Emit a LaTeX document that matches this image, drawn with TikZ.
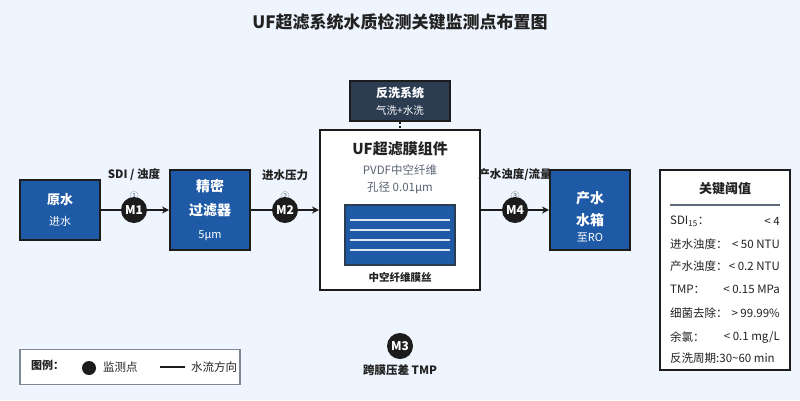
\documentclass[tikz,border=0pt]{standalone}
\usepackage{fontspec}
\setmainfont{Noto Sans CJK SC}
\usetikzlibrary{arrows.meta,positioning,calc}
\definecolor{bgblue}{HTML}{EEF5FE}
\definecolor{unitblue}{HTML}{1F5AA6}
\definecolor{linedark}{HTML}{1C1C1C}
\definecolor{slatedark}{HTML}{2C3D52}
\definecolor{textdark}{HTML}{222222}
\definecolor{subgray}{HTML}{5A6474}
\definecolor{rulegray}{HTML}{5F6B78}
\tikzstyle{unit} = [
    rectangle,
    draw=linedark,
    line width=2pt,
    fill=unitblue,
    text=white,
    minimum width=80pt,
    minimum height=60pt,
    align=center,
    inner sep=0pt
]
\tikzstyle{monitor} = [
    circle,
    fill=linedark,
    text=white,
    minimum size=26pt,
    inner sep=0pt,
    font=\bfseries\fontsize{12}{14}\selectfont
]
\tikzstyle{tag} = [
    text=textdark,
    font=\bfseries\fontsize{11.5}{14}\selectfont
]
\tikzstyle{flow} = [
    line width=2.5pt,
    draw=linedark
]
\tikzstyle{flowarrow} = [
    flow,
    -{Stealth[length=7pt,width=7pt]}
]
\tikzstyle{row} = [
    text=textdark,
    inner sep=0pt,
    font=\fontsize{11.5}{14}\selectfont
]

\begin{document}
\begin{tikzpicture}[x=1pt, y=-1pt]
        % background and frame
        \fill[bgblue] (0,0) rectangle (800,400);
        \useasboundingbox (0,0) rectangle (800,400);

        % title
        \node[text=textdark, font=\bfseries\fontsize{17}{20}\selectfont] (title) at (400,22) {UF超滤系统水质检测关键监测点布置图};

        % raw water (left)
        \node[unit, font=\fontsize{13}{21}\selectfont] (raw) at (60,210) {
            \textbf{原水}\\
            {\fontsize{11}{13}\selectfont 进水}
        };

        % cartridge filter
        \node[unit, minimum height=80pt, font=\bfseries\fontsize{14}{23.5}\selectfont] (filter) at (210,210) {
            \rule{0pt}{13pt}精密\\
            过滤器\\
            {\mdseries\fontsize{11}{13}\selectfont 5μm}
        };

        % UF module (middle)
        \node[rectangle, draw=linedark, line width=2pt, fill=white, minimum width=160pt, minimum height=160pt] (uf) at (400,210) {};
        \node[text=textdark, font=\bfseries\fontsize{15}{18}\selectfont] (uftitle) at (400,149) {UF超滤膜组件};
        \node[text=subgray, align=center, font=\fontsize{11.5}{17}\selectfont] (ufsub) at (400,179) {PVDF中空纤维\\孔径 0.01μm};
        \node[rectangle, draw=slatedark, line width=1.5pt, fill=unitblue, minimum width=110pt, minimum height=60pt] (fiber) at (400,235) {};
        \foreach \y in {220,230,240,250}
            \draw[white!85!unitblue, line width=1.3pt] (350,\y) -- (450,\y);
        \node[text=textdark, font=\bfseries\fontsize{10.5}{13}\selectfont] (fiberlabel) at (400,277) {中空纤维膜丝};

        % backwash system (top)
        \node[rectangle, draw=linedark, line width=2pt, fill=slatedark, text=white, minimum width=100pt, minimum height=40pt, align=center, inner sep=0pt, font=\fontsize{12}{16.5}\selectfont] (backwash) at (400,101) {
            \textbf{反洗系统}\\
            {\fontsize{10.5}{12}\selectfont 气洗+水洗}
        };
        \draw[linedark, line width=2pt, dotted] (backwash) -- (uf);

        % product water tank (right)
        \node[unit, minimum height=80pt, font=\bfseries\fontsize{14}{21.5}\selectfont] (tank) at (590,210) {
            \rule{0pt}{26pt}产水\\
            水箱\\[-5pt]
            {\mdseries\fontsize{11}{13}\selectfont 至RO}
        };

        % monitoring points
        \node[text=subgray, font=\fontsize{9}{10}\selectfont] (n1) at (134,196) {①};
        \node[text=subgray, font=\fontsize{9}{10}\selectfont] (n2) at (285,196) {②};
        \node[text=subgray, font=\fontsize{9}{10}\selectfont] (n3) at (515,196) {③};
        \node[tag] (t1) at (134,175) {SDI / 浊度};
        \node[tag] (t2) at (285,175) {进水压力};
        \node[tag] (t4) at (515,175) {产水浊度/流量};
        \node[monitor] (m1) at (134,210) {M1};
        \node[monitor] (m2) at (285,210) {M2};
        \node[monitor] (m4) at (515,210) {M4};

        % water flow
        \draw[flow] (raw) -- (m1);
        \draw[flowarrow] (m1) -- (filter);
        \draw[flow] (filter) -- (m2);
        \draw[flowarrow] (m2) -- (uf);
        \draw[flow] (uf) -- (m4);
        \draw[flowarrow] (m4) -- (tank);

        % TMP point (bottom)
        \node[monitor] (m3) at (400,346) {M3};
        \node[tag] (t3) at (400,370) {跨膜压差 TMP};

        % key thresholds
        \node[rectangle, draw=linedark, line width=2pt, fill=white, minimum width=130pt, minimum height=200pt] (limits) at (725,270) {};
        \node[text=textdark, font=\bfseries\fontsize{13}{16}\selectfont] (limitstitle) at (725,189) {关键阈值};
        \draw[rulegray, line width=2pt] (670,205) -- (780,205);
        \foreach \k/\v/\y in {SDI\textsubscript{15}：/{< 4}/221, 进水浊度：/{< 50 NTU}/244, 产水浊度：/{< 0.2 NTU}/266, TMP：/{< 0.15 MPa}/289, 细菌去除：/{> 99.99\%}/313, 余氯：/{< 0.1 mg/L}/337} {
            \node[row, anchor=west] at (670,\y) {\k};
            \node[row, anchor=east] at (780,\y) {\v};
        }
        \node[row, anchor=west] (cycle) at (670,358) {反洗周期:30\textasciitilde60 min};

        % legend
        \node[rectangle, draw=rulegray!80, line width=1.5pt, fill=white, minimum width=220pt, minimum height=35pt] (legend) at (130,367) {};
        \node[text=textdark, anchor=west, inner sep=0pt, font=\bfseries\fontsize{11}{13}\selectfont] (legendtitle) at (31,365) {图例：};
        \node[circle, fill=linedark, minimum size=14pt, inner sep=0pt] (legenddot) at (89,368) {};
        \node[row, anchor=west] (legendpt) at (103,367) {监测点};
        \coordinate (legendA) at (160,367);
        \coordinate (legendB) at (185,367);
        \draw[linedark, line width=2pt] (legendA) -- (legendB);
        \node[row, anchor=west] (legendflow) at (191,367) {水流方向};
    \end{tikzpicture}
\end{document}
